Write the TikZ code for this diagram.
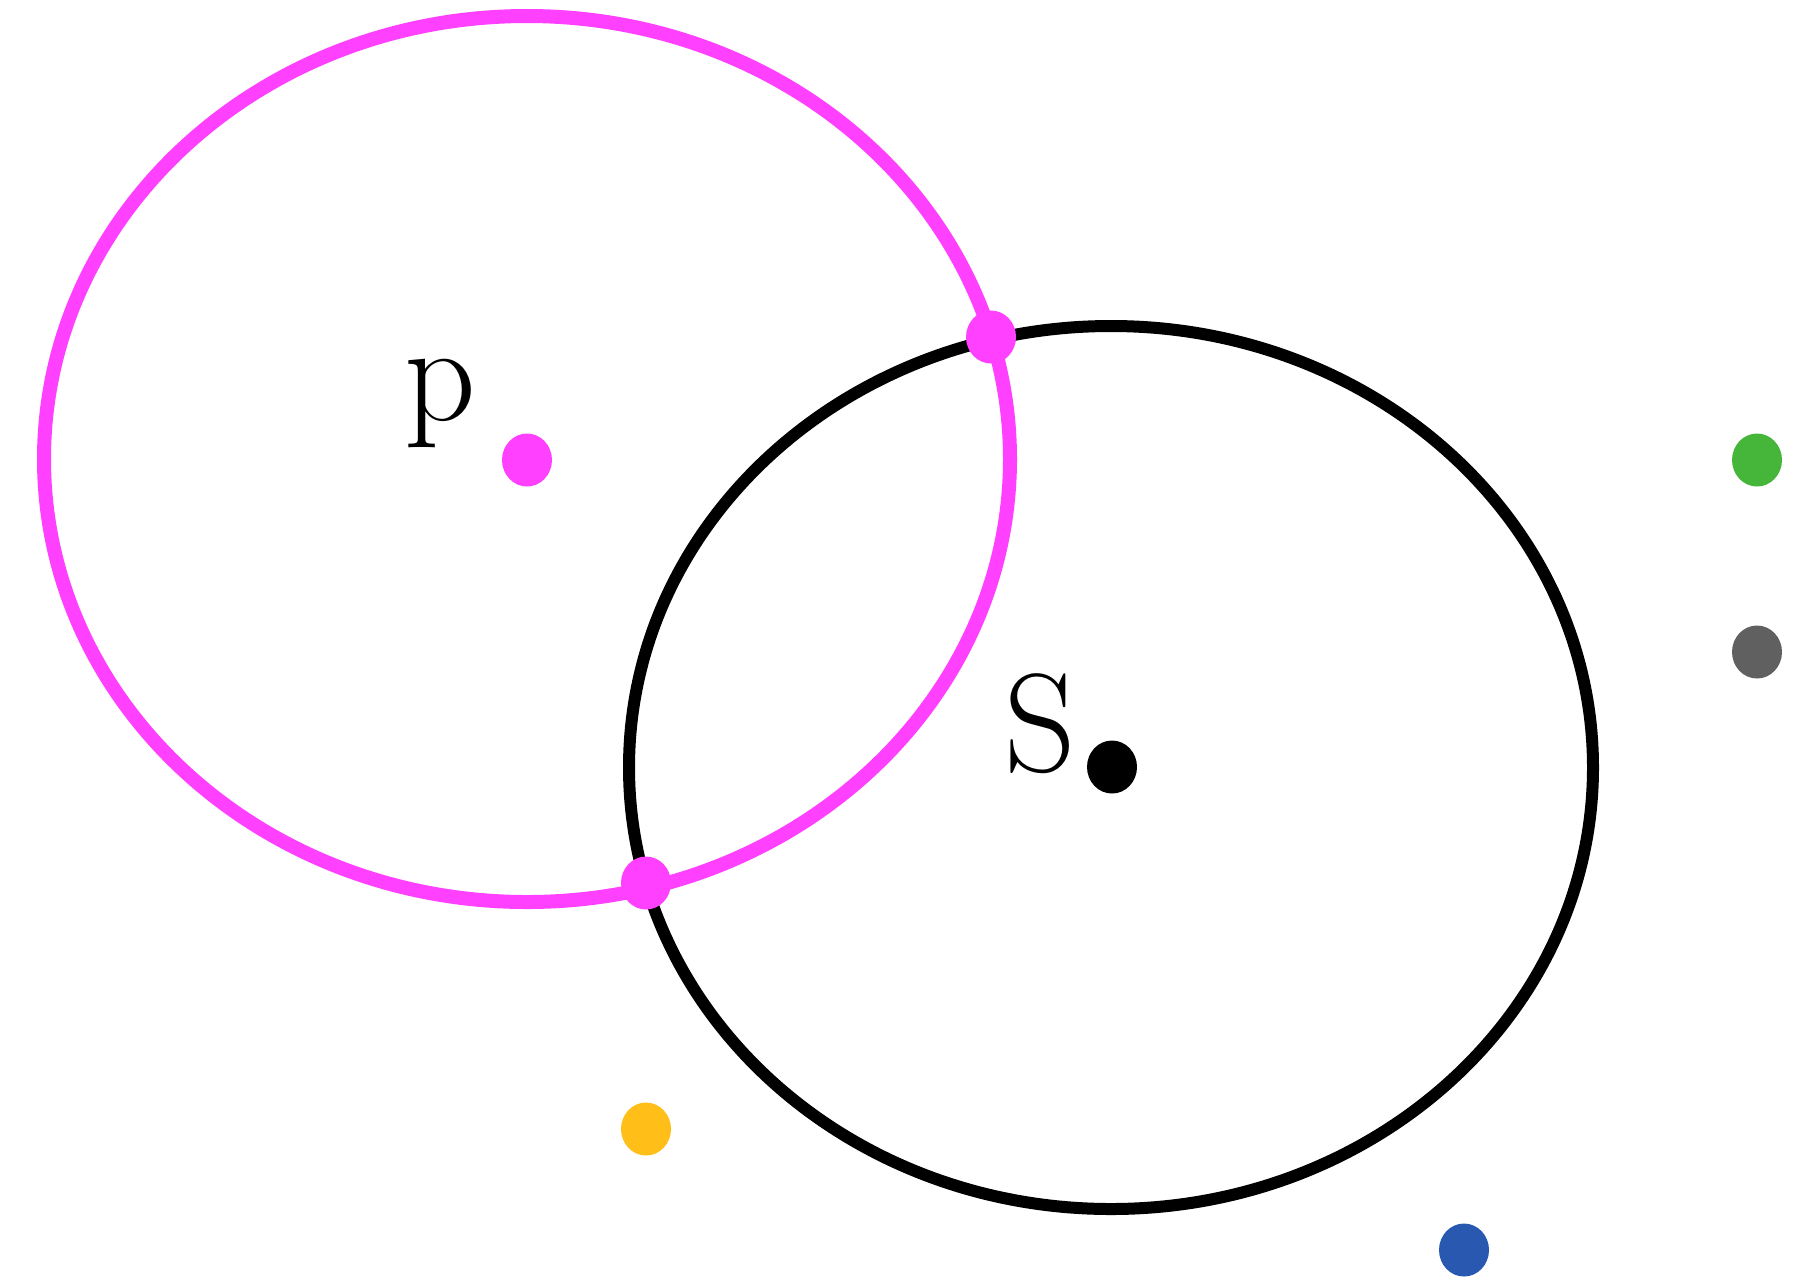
\documentclass[tikz,border=0pt]{standalone}
\usetikzlibrary{shapes.geometric}
\definecolor{mag}{HTML}{FF40FF}
\definecolor{grn}{HTML}{46B63A}
\definecolor{gry}{HTML}{606060}
\definecolor{ylw}{HTML}{FFBE18}
\definecolor{blu}{HTML}{2858B0}
\begin{document}
\begin{tikzpicture}[x=0.5pt,y=-0.5pt,
  dotnode/.style={ellipse,inner sep=0pt,minimum width=25pt,minimum height=26.5pt,draw=none},
  lbl/.style={inner sep=0pt,anchor=base,font=\fontsize{70}{80}\selectfont}]
\useasboundingbox (0,0) rectangle (1803,1276);
\draw[black,line width=6pt] (1111,767.5) ellipse [x radius=482, y radius=441.5];
\draw[mag,line width=7pt] (527,459) ellipse [x radius=483, y radius=443];
\node[dotnode,fill=mag] (pdot) at (527,460) {};
\node[dotnode,fill=black] (sdot) at (1112,767) {};
\node[dotnode,fill=mag] (i1) at (991,337) {};
\node[dotnode,fill=mag] (i2) at (646,883) {};
\node[dotnode,fill=grn] (g) at (1757,460) {};
\node[dotnode,fill=gry] (h) at (1757,652) {};
\node[dotnode,fill=ylw] (y) at (646,1129) {};
\node[dotnode,fill=blu] (b) at (1464,1250) {};
\node[lbl] (p) at (440,420) {p};
\node[lbl] (s) at (1040,771) {S};
\end{tikzpicture}
\end{document}
